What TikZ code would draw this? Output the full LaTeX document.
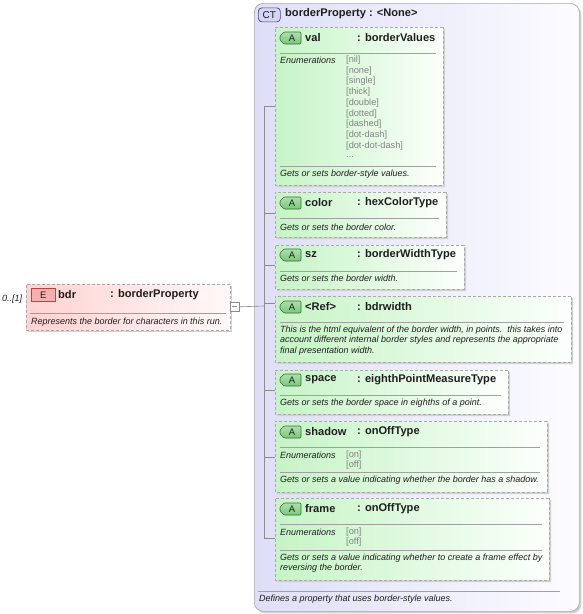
\documentclass[tikz,border=0pt]{standalone}
\usepackage{fontspec}
\setmainfont{Liberation Sans}
\usetikzlibrary{shapes.misc,shadows}
\definecolor{attrL}{RGB}{198,244,198}
\definecolor{attrR}{RGB}{252,255,252}
\definecolor{elemL}{RGB}{255,210,210}
\definecolor{elemR}{RGB}{255,248,248}
\definecolor{ctL}{RGB}{222,222,248}
\definecolor{ctR}{RGB}{252,252,255}
\definecolor{boxgray}{RGB}{170,170,170}
\definecolor{sepgray}{RGB}{160,160,160}
\definecolor{treegray}{RGB}{140,140,140}
\definecolor{valgray}{RGB}{130,130,130}
\definecolor{txt}{RGB}{30,30,30}
\definecolor{agreen}{RGB}{70,100,70}
\definecolor{agreenT}{RGB}{170,225,170}
\definecolor{agreenD}{RGB}{120,200,120}
\definecolor{ered}{RGB}{180,70,70}
\definecolor{epinkT}{RGB}{245,175,175}
\definecolor{epinkM}{RGB}{255,232,232}
\definecolor{ctblue}{RGB}{70,70,120}
\definecolor{ctfill}{RGB}{212,212,244}
\tikzset{
  attrbox/.style={chamfered rectangle, chamfered rectangle corners={north west,south west},
    chamfered rectangle sep=5pt, inner sep=0pt, anchor=north west, draw=boxgray,
    dash pattern=on 3pt off 2pt, line width=0.7pt, left color=attrL, right color=attrR,
    drop shadow={shadow xshift=2pt,shadow yshift=-2pt,fill=black!18,opacity=1}},
  elembox/.style={rectangle, inner sep=0pt, anchor=north west, draw=boxgray,
    dash pattern=on 3pt off 2pt, line width=0.7pt, left color=elemL, right color=elemR,
    drop shadow={shadow xshift=2pt,shadow yshift=-2pt,fill=black!18,opacity=1}},
  ctbox/.style={rectangle, rounded corners=9pt, inner sep=0pt, anchor=north west, draw=boxgray,
    line width=0.7pt, left color=ctL, right color=ctR,
    drop shadow={shadow xshift=2pt,shadow yshift=-2pt,fill=black!18,opacity=1}},
  abadgeshape/.style={draw=agreen, line width=0.6pt, rounded corners=1pt,
    top color=agreenT, middle color=white, bottom color=agreenD},
  btext/.style={inner sep=0pt, font=\fontsize{9.5}{10}\selectfont, text=txt},
  ebadge/.style={rectangle, minimum width=24pt, minimum height=13pt, inner sep=0pt,
    draw=ered, line width=0.6pt, top color=epinkT, middle color=epinkM, bottom color=epinkT,
    anchor=north west, font=\fontsize{9.5}{10}\selectfont, text=txt},
  ctbadge/.style={rectangle, rounded corners=3.5pt, minimum width=22pt, minimum height=14pt, inner sep=0pt,
    draw=ctblue, line width=0.7pt, fill=ctfill, anchor=north west,
    font=\fontsize{10}{10}\selectfont, text=txt},
  hdr/.style={anchor=west, inner sep=0pt, font=\fontsize{11.1}{12}\selectfont\bfseries, text=txt},
  desc/.style={anchor=west, inner sep=0pt, font=\fontsize{9}{10}\selectfont\itshape, text=txt},
  enumlbl/.style={anchor=west, inner sep=0pt, font=\fontsize{9}{10}\selectfont\itshape, text=txt},
  enumval/.style={anchor=west, inner sep=0pt, font=\fontsize{9.2}{10}\selectfont, text=valgray},
  sepline/.style={draw=sepgray, line width=0.6pt},
  tree/.style={draw=treegray, line width=0.6pt},
  minusbox/.style={rectangle, minimum width=9pt, minimum height=9pt, inner sep=0pt, draw=treegray,
    line width=0.6pt, fill=white, anchor=north west},
}
% A badge: name, left x, top y
\newcommand\Abadge[3]{%
  \path[abadgeshape] ({#2+4},{#3}) -- ({#2+21},{#3}) -- ({#2+21},{#3+12}) -- ({#2+4},{#3+12})
     -- ({#2},{#3+8}) -- ({#2},{#3+4}) -- cycle;
  \node[btext] (#1) at ({#2+12},{#3+6.3}) {A};}
\begin{document}
\begin{tikzpicture}[x=1pt,y=-1pt]
\useasboundingbox (0,0) rectangle (582,614);

% complex type box
\node[ctbox, minimum width=325pt, minimum height=608pt] (ct) at (254,3) {};
\node[ctbadge] (ctb) at (258,7.5) {CT};
\node[hdr] (cth) at (285,14) {borderProperty : <None>};
\draw[sepline] (258,591) -- (560,591);
\node[desc] (ctd) at (259,599) {Defines a property that uses border-style values.};

% element box
\node[elembox, minimum width=204pt, minimum height=46pt] (bdr) at (26,284) {};
\node[ebadge] (eb) at (31,288) {E};
\node[hdr] (bdrn) at (58,295) {bdr};
\node[hdr] (bdrt) at (110,295) {: borderProperty};
\draw[sepline] (30,313) -- (226,313);
\node[desc] (bdrd) at (31,322) {Represents the border for characters in this run.};
\node[desc] (card) at (2,299) {0..[1]};
\node[minusbox] (mb) at (230,302) {};
\draw[line width=0.6pt, draw=treegray] (232,306.5) -- (237,306.5);

% attribute boxes
\node[attrbox, minimum width=168pt, minimum height=158pt] (val) at (275,27) {};
\node[attrbox, minimum width=171pt, minimum height=45pt] (color) at (275,192) {};
\node[attrbox, minimum width=189pt, minimum height=44pt] (sz) at (275,245) {};
\node[attrbox, minimum width=296pt, minimum height=66pt] (ref) at (275,296) {};
\node[attrbox, minimum width=233pt, minimum height=44pt] (space) at (275,370) {};
\node[attrbox, minimum width=272pt, minimum height=71pt] (shadow) at (275,421) {};
\node[attrbox, minimum width=274pt, minimum height=82pt] (frame) at (275,498) {};

% tree connectors
\coordinate (tv0) at (264,106);
\coordinate (tv1) at (264,538);
\coordinate (tin) at (264,306);
\draw[tree] (tv0) -- (tv1);
\draw[tree] (mb.east) -- (tin);
\draw[tree] (tv0) -- (val.west |- tv0);
\coordinate (tc) at (264,213);
\coordinate (ts) at (264,265);
\coordinate (tr) at (264,303);
\coordinate (tp) at (264,390);
\coordinate (th) at (264,457);
\draw[tree] (tc) -- (color.west |- tc);
\draw[tree] (ts) -- (sz.west |- ts);
\draw[tree] (tr) -- (ref.west |- tr);
\draw[tree] (tp) -- (space.west |- tp);
\draw[tree] (th) -- (shadow.west |- th);
\draw[tree] (tv1) -- (frame.west |- tv1);

% val
\Abadge{ab1}{280}{32}
\node[hdr] at (305,38) {val};
\node[hdr] at (357,38) {: borderValues};
\draw[sepline] (280,53) -- (436,53);
\node[enumlbl] at (280,60) {Enumerations};
\node[enumval] at (346,60) {[nil]};
\node[enumval] at (346,70.75) {[none]};
\node[enumval] at (346,81.5) {[single]};
\node[enumval] at (346,92.25) {[thick]};
\node[enumval] at (346,103) {[double]};
\node[enumval] at (346,113.75) {[dotted]};
\node[enumval] at (346,124.5) {[dashed]};
\node[enumval] at (346,135.25) {[dot-dash]};
\node[enumval] at (346,146) {[dot-dot-dash]};
\node[enumval] at (346,156.75) {.{}.{}.};
\draw[sepline] (280,166) -- (436,166);
\node[desc] at (280,174) {Gets or sets border-style values.};

% color
\Abadge{ab2}{280}{197}
\node[hdr] at (305,203) {color};
\node[hdr] at (357,203) {: hexColorType};
\draw[sepline] (280,218) -- (439,218);
\node[desc] at (280,227) {Gets or sets the border color.};

% sz
\Abadge{ab3}{280}{249}
\node[hdr] at (305,255) {sz};
\node[hdr] at (357,255) {: borderWidthType};
\draw[sepline] (280,271) -- (457,271);
\node[desc] at (280,278) {Gets or sets the border width.};

% ref
\Abadge{ab4}{280}{301}
\node[hdr] at (305,307) {<Ref>};
\node[hdr] at (357,307) {: bdrwidth};
\draw[sepline] (280,322) -- (564,322);
\node[desc] at (280,330) {This is the html equivalent of the border width, in points.\ \ this takes into};
\node[desc] at (280,340.5) {account different internal border styles and represents the appropriate};
\node[desc] at (280,351) {final presentation width.};

% space
\Abadge{ab5}{280}{374}
\node[hdr] at (305,380) {space};
\node[hdr] at (357,380) {: eighthPointMeasureType};
\draw[sepline] (280,395) -- (501,395);
\node[desc] at (280,403) {Gets or sets the border space in eighths of a point.};

% shadow
\Abadge{ab6}{280}{426}
\node[hdr] at (305,432) {shadow};
\node[hdr] at (357,432) {: onOffType};
\draw[sepline] (280,447) -- (540,447);
\node[enumlbl] at (280,455) {Enumerations};
\node[enumval] at (346,455) {[on]};
\node[enumval] at (346,465) {[off]};
\draw[sepline] (280,472) -- (540,472);
\node[desc] at (280,480) {Gets or sets a value indicating whether the border has a shadow.};

% frame
\Abadge{ab7}{280}{503}
\node[hdr] at (305,509) {frame};
\node[hdr] at (357,509) {: onOffType};
\draw[sepline] (280,524) -- (542,524);
\node[enumlbl] at (280,532) {Enumerations};
\node[enumval] at (346,532) {[on]};
\node[enumval] at (346,542) {[off]};
\draw[sepline] (280,550) -- (542,550);
\node[desc] at (280,558) {Gets or sets a value indicating whether to create a frame effect by};
\node[desc] at (280,568) {reversing the border.};
\end{tikzpicture}
\end{document}
